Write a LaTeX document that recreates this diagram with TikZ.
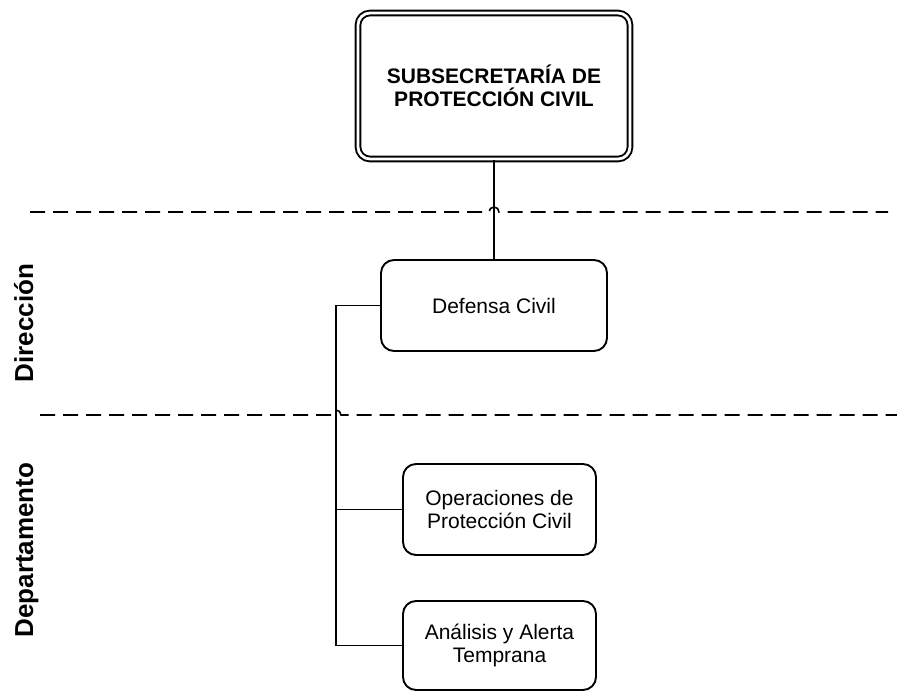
\documentclass[tikz,border=0pt]{standalone}
\usepackage{fontspec}
\setmainfont{Liberation Sans}
\usetikzlibrary{positioning}

\tikzset{
  unit/.style={draw, line width=1.9pt, rounded corners=13pt, align=center,
    inner sep=2pt, font=\fontsize{21}{23.5}\selectfont},
  head/.style={unit, line width=1.9pt, double=white, double distance=2.8pt,
    rounded corners=12pt, font=\fontsize{21}{23.5}\selectfont\bfseries},
  link/.style={line width=1.9pt},
  divider/.style={line width=1.6pt, dash pattern=on 15pt off 8pt},
  level/.style={rotate=90, anchor=base, font=\fontsize{26}{30}\selectfont\bfseries}
}

\begin{document}
\begin{tikzpicture}[x=1pt, y=-1pt]
\useasboundingbox (0,0) rectangle (897,698);

% Boxes
\node[head, minimum width=272pt, minimum height=146pt] (subsec) at (494,86) {SUBSECRETARÍA DE\\PROTECCIÓN CIVIL};
\node[unit, minimum width=226pt, minimum height=91pt] (defensa) at (494,305.5) {Defensa Civil};
\node[unit, minimum width=193pt, minimum height=91pt] (operaciones) at (499.5,509.5) {Operaciones de\\Protección Civil};
\node[unit, minimum width=193pt, minimum height=89pt] (analisis) at (499.5,645.5) {Análisis y Alerta\\Temprana};

% Level labels
\node[level] (direccion) at (33,323) {Dirección};
\node[level] (departamento) at (33,550) {Departamento};

% Level dividers, hopping over the connectors
\draw[divider] (30,212) -- (489,212) arc[start angle=180, end angle=0, radius=5pt] -- (888,212);
\draw[divider] (40,415) -- (331,415) arc[start angle=180, end angle=0, radius=5pt] -- (897,415);

% Connectors
\coordinate (spine) at (336,305.5);
\draw[link] (subsec) -- (defensa);
\draw[link] (defensa.west) -- (spine) |- (operaciones.west);
\draw[link] (spine) |- (analisis.west);
\end{tikzpicture}
\end{document}
